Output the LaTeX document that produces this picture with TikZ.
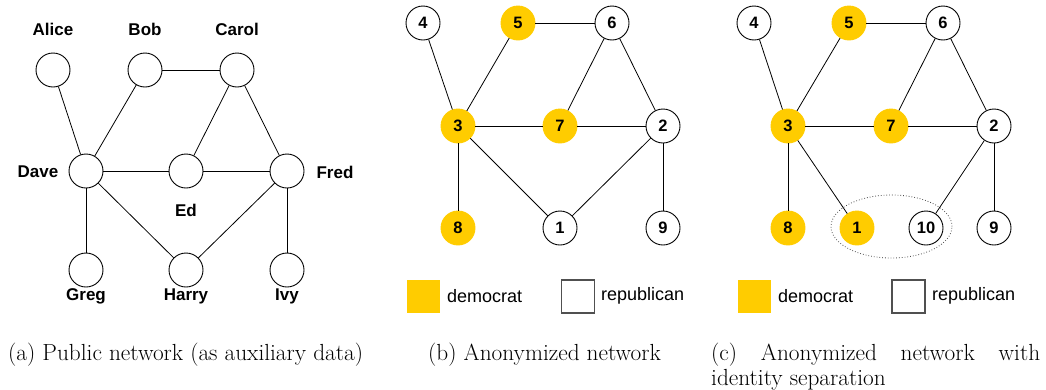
\documentclass[tikz,border=0pt]{standalone}
\usepackage{fontspec}
\newfontfamily\arial{Liberation Sans}
\usetikzlibrary{shapes.geometric}
\definecolor{demyellow}{RGB}{255,204,0}
\definecolor{legendgray}{RGB}{80,80,80}
\begin{document}
\begin{tikzpicture}[x=1pt,y=-1pt,
  vtx/.style={circle,draw=black,line width=0.9pt,fill=white,minimum size=34pt,inner sep=0pt,
    font=\arial\bfseries\fontsize{16.5}{16.5}\selectfont},
  dem/.style={vtx,draw=demyellow,fill=demyellow},
  lbl/.style={inner sep=0pt,font=\arial\bfseries\fontsize{17}{17}\selectfont},
  edge/.style={line width=0.8pt,black},
  legtxt/.style={inner sep=0pt,anchor=west,font=\arial\fontsize{18}{18}\selectfont},
  capt/.style={inner sep=0pt,font=\fontsize{23.3}{25.5}\selectfont}
]
\useasboundingbox (0,0) rectangle (1046,389);

% ---------- panel (a)
\node[vtx] (alice) at (53,70) {};
\node[vtx] (bob) at (145,70) {};
\node[vtx] (carol) at (237,70) {};
\node[vtx] (dave) at (86,171) {};
\node[vtx] (ed) at (186,171) {};
\node[vtx] (fred) at (287,171) {};
\node[vtx] (greg) at (86,270) {};
\node[vtx] (harry) at (186,270) {};
\node[vtx] (ivy) at (287,270) {};
\node[lbl] (lalice) at (53,29) {Alice};
\node[lbl] (lbob) at (145,29) {Bob};
\node[lbl] (lcarol) at (237,29) {Carol};
\node[lbl] (ldave) at (38,172) {Dave};
\node[lbl] (lfred) at (335,172) {Fred};
\node[lbl] (led) at (186,210) {Ed};
\node[lbl] (lgreg) at (86,296) {Greg};
\node[lbl] (lharry) at (186,296) {Harry};
\node[lbl] (livy) at (287,296) {Ivy};
\draw[edge] (alice) -- (dave);
\draw[edge] (bob) -- (dave);
\draw[edge] (bob) -- (carol);
\draw[edge] (carol) -- (ed);
\draw[edge] (carol) -- (fred);
\draw[edge] (dave) -- (ed);
\draw[edge] (ed) -- (fred);
\draw[edge] (dave) -- (greg);
\draw[edge] (dave) -- (harry);
\draw[edge] (fred) -- (harry);
\draw[edge] (fred) -- (ivy);

% ---------- panel (b)
\node[vtx] (b4) at (423,23) {4};
\node[dem] (b5) at (518,23) {5};
\node[vtx] (b6) at (612,23) {6};
\node[dem] (b3) at (458,126) {3};
\node[dem] (b7) at (560,126) {7};
\node[vtx] (b2) at (663,126) {2};
\node[dem] (b8) at (458,228) {8};
\node[vtx] (b1) at (560,228) {1};
\node[vtx] (b9) at (663,228) {9};
\draw[edge] (b4) -- (b3);
\draw[edge] (b5) -- (b3);
\draw[edge] (b5) -- (b6);
\draw[edge] (b6) -- (b7);
\draw[edge] (b6) -- (b2);
\draw[edge] (b3) -- (b7);
\draw[edge] (b7) -- (b2);
\draw[edge] (b3) -- (b8);
\draw[edge] (b3) -- (b1);
\draw[edge] (b2) -- (b1);
\draw[edge] (b2) -- (b9);
\node[fill=demyellow,minimum size=33pt,inner sep=0pt] (bdemsq) at (423.5,296.5) {};
\node[legtxt] (bdemtxt) at (447,296) {democrat};
\node[draw=legendgray,line width=1.2pt,fill=white,minimum size=33pt,inner sep=0pt] (brepsq) at (578,296.5) {};
\node[legtxt] (breptxt) at (601,296) {republican};

% ---------- panel (c)
\node[vtx] (c4) at (754,23) {4};
\node[dem] (c5) at (849,23) {5};
\node[vtx] (c6) at (943,23) {6};
\node[dem] (c3) at (788,126) {3};
\node[dem] (c7) at (891,126) {7};
\node[vtx] (c2) at (994,126) {2};
\node[dem] (c8) at (788,228) {8};
\node[dem] (c1) at (857,228) {1};
\node[vtx] (c10) at (926,228) {10};
\node[vtx] (c9) at (994,228) {9};
\draw[edge] (c4) -- (c3);
\draw[edge] (c5) -- (c3);
\draw[edge] (c5) -- (c6);
\draw[edge] (c6) -- (c7);
\draw[edge] (c6) -- (c2);
\draw[edge] (c3) -- (c7);
\draw[edge] (c7) -- (c2);
\draw[edge] (c3) -- (c8);
\draw[edge] (c3) -- (c1);
\draw[edge] (c2) -- (c10);
\draw[edge] (c2) -- (c9);
\node[ellipse,draw=black!70,dotted,line width=0.8pt,minimum width=121pt,minimum height=63pt,inner sep=0pt] (sep) at (891.5,226.5) {};
\node[fill=demyellow,minimum size=33pt,inner sep=0pt] (cdemsq) at (754.5,296.5) {};
\node[legtxt] (cdemtxt) at (778,296) {democrat};
\node[draw=legendgray,line width=1.2pt,fill=white,minimum size=33pt,inner sep=0pt] (crepsq) at (908.5,296.5) {};
\node[legtxt] (creptxt) at (932,296) {republican};

% ---------- captions
\node[capt,anchor=base west] (capa) at (8,360) {(a) Public network (as auxiliary data)};
\node[capt,anchor=base west] (capb) at (428,360) {(b) Anonymized network};
\node[capt,anchor=base west,text width=329pt,align=justify] (capc) at (711,360)
  {(c) Anonymized network with\linebreak identity separation};
\end{tikzpicture}
\end{document}
